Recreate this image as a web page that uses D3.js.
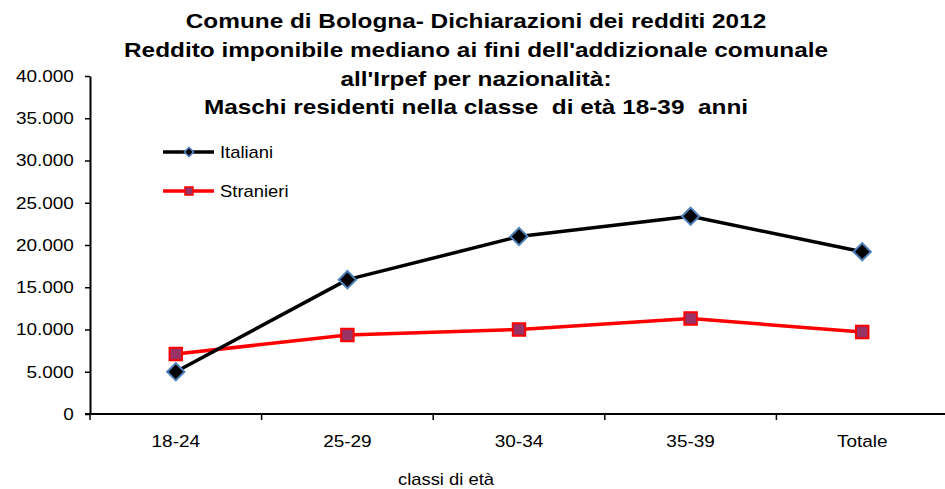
<!DOCTYPE html>
<html>
<head>
<meta charset="utf-8">
<script src="https://cdn.jsdelivr.net/npm/d3@7"></script>
<style>
  html, body { margin: 0; padding: 0; background: #ffffff; }
  svg { display: block; font-family: "Liberation Sans", Arial, sans-serif; }
</style>
</head>
<body>
<div id="chart"></div>
<script>
// ---- data ----
const categories = ["18-24", "25-29", "30-34", "35-39", "Totale"];
const italiani = [5000, 15900, 21000, 23400, 19200];
const stranieri = [7100, 9350, 10000, 11300, 9700];
const seriesNames = ["Italiani", "Stranieri"];
const yTicks = [0, 5000, 10000, 15000, 20000, 25000, 30000, 35000, 40000];
const titleLines = [
  "Comune di Bologna- Dichiarazioni dei redditi 2012",
  "Reddito imponibile mediano ai fini dell'addizionale comunale",
  "all'Irpef per nazionalità:",
  "Maschi residenti nella classe  di età 18-39  anni"
];
const xTitle = "classi di età";

// ---- layout ----
const W = 945, H = 489;
const plotLeft = 90, plotRight = 948, plotTop = 76, plotBottom = 414;
const SX = 1.15; // horizontal text stretch of the original

const svg = d3.select("#chart").append("svg")
  .attr("width", W).attr("height", H).attr("viewBox", `0 0 ${W} ${H}`);

const itLocale = d3.formatLocale({decimal: ",", thousands: ".", grouping: [3], currency: ["", "€"]});
const fmt = itLocale.format(",d");

const x = d3.scaleBand().domain(categories).range([plotLeft, plotRight]).paddingInner(0).paddingOuter(0);
const y = d3.scaleLinear().domain([0, 40000]).range([plotBottom, plotTop]);
const cx = c => x(c) + x.bandwidth() / 2;

// ---- title ----
const titleBase = [28, 57, 86, 114];
svg.append("g").selectAll("text").data(titleLines).join("text")
  .attr("transform", (d, i) => `translate(476,${titleBase[i]}) scale(1.16,1)`)
  .attr("text-anchor", "middle")
  .attr("font-weight", "bold")
  .attr("font-size", 21)
  .attr("fill", "#000")
  .style("white-space", "pre")
  .text(d => d);

// ---- y axis ----
const yAxis = svg.append("g").attr("transform", `translate(${plotLeft},0)`)
  .call(d3.axisLeft(y).tickValues(yTicks).tickFormat(fmt).tickSizeInner(5).tickSizeOuter(0).tickPadding(9));
yAxis.select(".domain").attr("stroke", "#000").attr("stroke-width", 2);
yAxis.selectAll(".tick line").attr("stroke", "#000").attr("stroke-width", 1.5);
yAxis.selectAll(".tick text")
  .attr("font-size", 16.5)
  .attr("font-family", "Liberation Sans, Arial, sans-serif")
  .attr("fill", "#000")
  .attr("transform", `scale(${SX},1)`);

// ---- x axis ----
const xAxis = svg.append("g").attr("transform", `translate(0,${plotBottom})`)
  .call(d3.axisBottom(x).tickSizeInner(0).tickSizeOuter(0).tickPadding(21));
xAxis.select(".domain").remove();
xAxis.selectAll(".tick line").remove();
xAxis.selectAll(".tick text")
  .attr("font-size", 16.5)
  .attr("font-family", "Liberation Sans, Arial, sans-serif")
  .attr("fill", "#000")
  .attr("transform", `scale(${SX},1)`);
xAxis.append("line")
  .attr("x1", x.range()[0] - 5).attr("x2", x.range()[1])
  .attr("y1", 0).attr("y2", 0)
  .attr("stroke", "#000").attr("stroke-width", 2);
const bounds = categories.map(c => x(c)).concat([x.range()[1]]);
xAxis.selectAll("line.bt").data(bounds).join("line").attr("class", "bt")
  .attr("x1", d => d).attr("x2", d => d)
  .attr("y1", 0).attr("y2", 6)
  .attr("stroke", "#000").attr("stroke-width", 1.5);

// x axis title
svg.append("text")
  .attr("transform", `translate(446,485) scale(${SX},1)`)
  .attr("text-anchor", "middle")
  .attr("font-size", 16)
  .attr("fill", "#000")
  .text(xTitle);

// ---- lines ----
const line = d3.line().x((d, i) => cx(categories[i])).y(d => y(d));

svg.append("path").datum(stranieri)
  .attr("d", line).attr("fill", "none")
  .attr("stroke", "#FF0000").attr("stroke-width", 3.5).attr("stroke-linejoin", "round");
svg.append("path").datum(italiani)
  .attr("d", line).attr("fill", "none")
  .attr("stroke", "#000000").attr("stroke-width", 3.5).attr("stroke-linejoin", "round");

const diamond = d3.symbol().type(d3.symbolSquare);
const square = d3.symbol().type(d3.symbolSquare);

svg.append("g").selectAll("path").data(stranieri).join("path")
  .attr("d", square.size(156)())
  .attr("transform", (d, i) => `translate(${cx(categories[i])},${y(d)})`)
  .attr("fill", "#993366").attr("stroke", "#FF0000").attr("stroke-width", 2);

svg.append("g").selectAll("path").data(italiani).join("path")
  .attr("d", diamond.size(150)())
  .attr("transform", (d, i) => `translate(${cx(categories[i])},${y(d)}) rotate(45)`)
  .attr("fill", "#000000").attr("stroke", "#4F81BD").attr("stroke-width", 2);

// ---- legend ----
const legY = [152, 191];
const lg = svg.append("g");
lg.selectAll("line").data(seriesNames).join("line")
  .attr("x1", 163).attr("x2", 214)
  .attr("y1", (d, i) => legY[i]).attr("y2", (d, i) => legY[i])
  .attr("stroke", (d, i) => i === 0 ? "#000" : "#FF0000")
  .attr("stroke-width", 3.5);
lg.append("path")
  .attr("d", d3.symbol().type(d3.symbolSquare).size(42)())
  .attr("transform", `translate(189,${legY[0]}) rotate(45)`)
  .attr("fill", "#000").attr("stroke", "#4F81BD").attr("stroke-width", 1.5);
lg.append("path")
  .attr("d", d3.symbol().type(d3.symbolSquare).size(64)())
  .attr("transform", `translate(189,${legY[1]})`)
  .attr("fill", "#993366").attr("stroke", "#FF0000").attr("stroke-width", 1.5);
lg.selectAll("text").data(seriesNames).join("text")
  .attr("transform", (d, i) => `translate(220,${legY[i] + 6}) scale(${SX},1)`)
  .attr("font-size", 16)
  .attr("fill", "#000")
  .text(d => d);
</script>
</body>
</html>
